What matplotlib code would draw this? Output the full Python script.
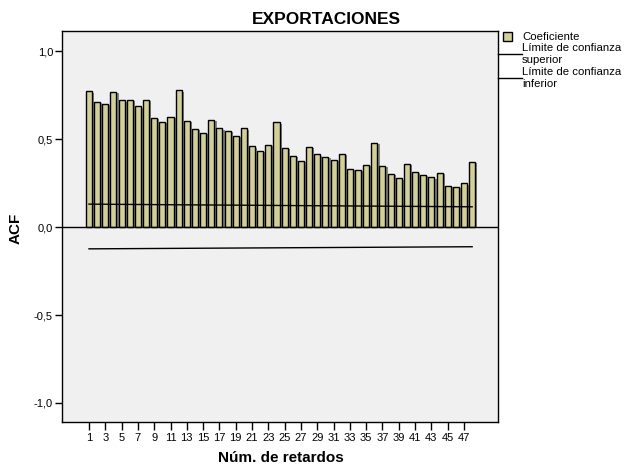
import matplotlib
matplotlib.use("Agg")
import matplotlib.pyplot as plt
from matplotlib.patches import Rectangle
from matplotlib.lines import Line2D
import matplotlib.patheffects as pe

# ACF coefficients by lag
lags = list(range(1, 49))
acf = [0.772, 0.712, 0.701, 0.769, 0.721, 0.723, 0.686, 0.723, 0.619, 0.597,
       0.625, 0.778, 0.604, 0.559, 0.536, 0.610, 0.562, 0.546, 0.519, 0.561,
       0.459, 0.434, 0.468, 0.595, 0.449, 0.404, 0.376, 0.457, 0.414, 0.398,
       0.383, 0.417, 0.331, 0.326, 0.355, 0.480, 0.349, 0.302, 0.276, 0.361,
       0.315, 0.296, 0.283, 0.308, 0.234, 0.230, 0.248, 0.372]
# Confidence limits at first and last lag
conf_lags = [1, 48]
upper_limit = [0.130, 0.115]
lower_limit = [-0.124, -0.112]

xtick_values = list(range(1, 48, 2))
ytick_values = [-1.0, -0.5, 0.0, 0.5, 1.0]
ytick_labels = ["-1,0", "-0,5", "0,0", "0,5", "1,0"]

title = "EXPORTACIONES"
xlabel = "Núm. de retardos"
ylabel = "ACF"
legend_labels = ["Coeficiente", "Límite de confianza\nsuperior",
                 "Límite de confianza\ninferior"]

bar_color = "#D3CF98"
FONT = ["Liberation Sans", "DejaVu Sans"]
plt.rcParams["font.family"] = FONT

W, H = 626, 466
fig = plt.figure(figsize=(W / 100, H / 100), dpi=100)
fig.patch.set_facecolor("white")

left, right, top, bottom = 62, 498, 31, 422
ax = fig.add_axes([left / W, 1 - bottom / H, (right - left) / W, (bottom - top) / H])
ax.set_facecolor("#F0F0F0")

shadow = [pe.SimplePatchShadow(offset=(1.6, -1.0), shadow_rgbFace="#7a7a7a", alpha=0.9),
          pe.Normal()]
bars = ax.bar(lags, acf, width=0.74, color=bar_color, edgecolor="black",
              linewidth=1.0, zorder=3)
for b in bars:
    b.set_path_effects(shadow)

ax.axhline(0, color="black", linewidth=1.0, zorder=4)
ax.plot(conf_lags, upper_limit, color="black", linewidth=1.0, zorder=5)
ax.plot(conf_lags, lower_limit, color="black", linewidth=1.0, zorder=5)

ax.set_xlim(-2.31, 51.17)
ax.set_ylim(-1.108, 1.114)
ax.set_xticks(xtick_values)
ax.set_xticklabels([str(v) for v in xtick_values], fontsize=8)
ax.set_yticks(ytick_values)
ax.set_yticklabels(ytick_labels, fontsize=8)
ax.tick_params(axis="x", direction="out", length=6, width=1.0, color="black", pad=2)
ax.tick_params(axis="y", direction="out", length=5, width=1.0, color="black", pad=1.5)
for s in ax.spines.values():
    s.set_color("black")
    s.set_linewidth(1.0)

ax.set_xlabel(xlabel, fontsize=11, fontweight="bold")
ax.set_ylabel(ylabel, fontsize=11, fontweight="bold")
axw, axh = right - left, bottom - top
ax.xaxis.set_label_coords((281 - left) / axw, (bottom - 458) / axh)
ax.xaxis.label.set_va("center")
ax.yaxis.set_label_coords((16 - left) / axw, (bottom - 228) / axh)
ax.yaxis.label.set_va("center")

fig.text(326 / W, 1 - 19 / H, title, ha="center", va="center",
         fontsize=12.5, fontweight="bold")

# Legend, drawn in figure pixel coordinates
def fx(px):
    return px / W

def fy(py):
    return 1 - py / H

fig.patches.append(Rectangle((fx(503), fy(41)), 9 / W, 9 / H, transform=fig.transFigure,
                             facecolor=bar_color, edgecolor="black", linewidth=1.0))
fig.text(fx(522), fy(37), legend_labels[0], ha="left", va="center", fontsize=8.2)
for ly, lab in [(54, legend_labels[1]), (78, legend_labels[2])]:
    fig.lines.append(Line2D([fx(498), fx(522)], [fy(ly), fy(ly)], transform=fig.transFigure,
                            color="black", linewidth=1.0))
    fig.text(fx(522), fy(ly), lab, ha="left", va="center", fontsize=8.2, linespacing=1.32)

fig.savefig("out.png", dpi=100)
